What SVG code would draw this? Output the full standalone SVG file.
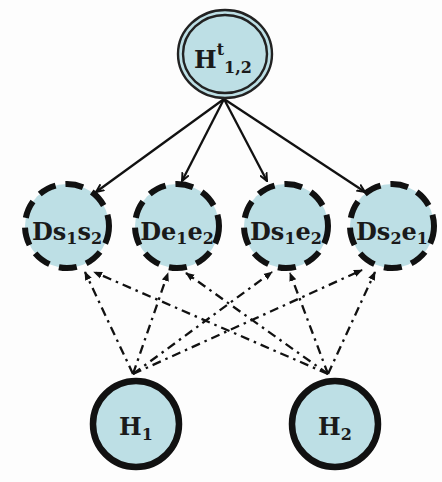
<svg xmlns="http://www.w3.org/2000/svg" width="442" height="482" viewBox="0 0 442 482">
  <style>
    .bg { fill: #fdfdfd; }
    .node { fill: #bddfe5; stroke: #111; }
    .dashed { stroke-width: 6; stroke-dasharray: 18 10; }
    .solid { stroke-width: 6.5; }
    .ring { fill: none; stroke: #222; stroke-width: 2.4; }
    .lbl { font-family: "DejaVu Serif", "Liberation Serif", serif; font-weight: bold; font-size: 24px; fill: #1a1a1a; text-anchor: middle; }
    .sub { font-size: 16px; }
    .big { font-size: 24px; }
    .edge { stroke: #111; stroke-width: 2.3; fill: none; }
    .dd { stroke-dasharray: 9 5 2.5 5; }
  </style>
  <defs>
    <marker id="open" viewBox="0 0 10 10" refX="9" refY="5" markerWidth="9" markerHeight="9" orient="auto" markerUnits="userSpaceOnUse">
      <path d="M0,1 L9,5 L0,9" fill="none" stroke="#111" stroke-width="2.2"/>
    </marker>
    <marker id="filled" viewBox="0 0 10 10" refX="9" refY="5" markerWidth="9" markerHeight="9" orient="auto" markerUnits="userSpaceOnUse">
      <path d="M0,1 L10,5 L0,9 Z" fill="#111"/>
    </marker>
  </defs>
  <rect class="bg" width="442" height="482"/>

  <g id="connectors">
    <!-- solid edges from the top node -->
    <line class="edge" x1="224" y1="99" x2="96" y2="192" marker-end="url(#open)"/>
    <line class="edge" x1="224" y1="99" x2="182" y2="181" marker-end="url(#open)"/>
    <line class="edge" x1="224" y1="99" x2="267" y2="181" marker-end="url(#open)"/>
    <line class="edge" x1="224" y1="99" x2="365" y2="192" marker-end="url(#open)"/>
    <!-- dash-dot edges from H1 -->
    <line class="edge dd" x1="133" y1="374" x2="85" y2="272" marker-end="url(#filled)"/>
    <line class="edge dd" x1="133" y1="374" x2="168" y2="273" marker-end="url(#filled)"/>
    <line class="edge dd" x1="133" y1="374" x2="272" y2="272" marker-end="url(#filled)"/>
    <line class="edge dd" x1="133" y1="374" x2="362" y2="270" marker-end="url(#filled)"/>
    <!-- dash-dot edges from H2 -->
    <line class="edge dd" x1="328" y1="374" x2="94" y2="272" marker-end="url(#filled)"/>
    <line class="edge dd" x1="328" y1="374" x2="186" y2="273" marker-end="url(#filled)"/>
    <line class="edge dd" x1="328" y1="374" x2="290" y2="273" marker-end="url(#filled)"/>
    <line class="edge dd" x1="328" y1="374" x2="375" y2="272" marker-end="url(#filled)"/>
  </g>

  <g id="node-Ht12">
    <ellipse class="node" cx="225" cy="54" rx="47" ry="44" stroke-width="0"/>
    <ellipse class="ring" cx="225" cy="54" rx="47" ry="44"/>
    <ellipse class="ring" cx="225" cy="54" rx="42" ry="39"/>
    <text class="lbl" x="223" y="68">H<tspan class="sub" dy="-13">t</tspan><tspan class="sub" dy="18">1,2</tspan></text>
  </g>

  <g id="node-Ds1s2">
    <circle class="node dashed" cx="67" cy="226" r="42"/>
    <text class="lbl" x="67" y="240">Ds<tspan class="sub" dy="4">1</tspan><tspan dy="-4">s</tspan><tspan class="sub" dy="4">2</tspan></text>
  </g>
  <g id="node-De1e2">
    <circle class="node dashed" cx="177" cy="226" r="42"/>
    <text class="lbl" x="177" y="240">De<tspan class="sub" dy="4">1</tspan><tspan dy="-4">e</tspan><tspan class="sub" dy="4">2</tspan></text>
  </g>
  <g id="node-Ds1e2">
    <circle class="node dashed" cx="286" cy="226" r="42"/>
    <text class="lbl" x="286" y="240">Ds<tspan class="sub" dy="4">1</tspan><tspan dy="-4">e</tspan><tspan class="sub" dy="4">2</tspan></text>
  </g>
  <g id="node-Ds2e1">
    <circle class="node dashed" cx="392" cy="226" r="42"/>
    <text class="lbl" x="392" y="240">Ds<tspan class="sub" dy="4">2</tspan><tspan dy="-4">e</tspan><tspan class="sub" dy="4">1</tspan></text>
  </g>

  <g id="node-H1">
    <circle class="node solid" cx="136" cy="424" r="43"/>
    <text class="lbl big" x="136" y="435">H<tspan class="sub" dy="5">1</tspan></text>
  </g>
  <g id="node-H2">
    <circle class="node solid" cx="335" cy="424" r="43"/>
    <text class="lbl big" x="335" y="435">H<tspan class="sub" dy="5">2</tspan></text>
  </g>
</svg>
